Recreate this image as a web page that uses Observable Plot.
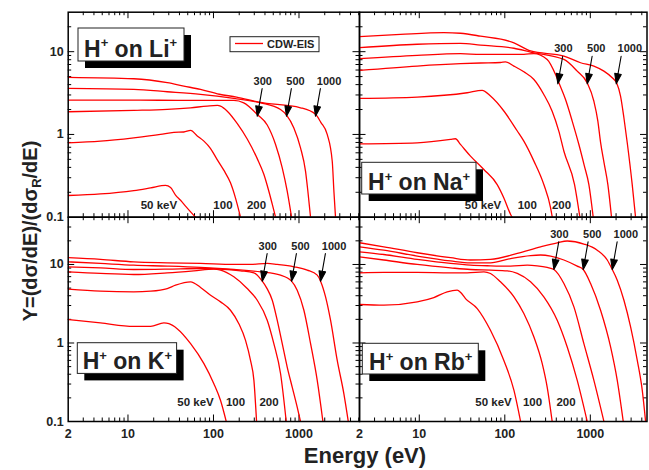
<!DOCTYPE html>
<html>
<head>
<meta charset="utf-8">
<script src="https://cdn.jsdelivr.net/npm/d3@7"></script>
<script src="https://cdn.jsdelivr.net/npm/@observablehq/plot@0.6"></script>
<style>
  body { margin: 0; background: #fff; }
  #chart { position: relative; width: 649px; height: 470px; }
  #chart > svg { position: absolute; left: 0; top: 0; }
</style>
</head>
<body>
<div id="chart"></div>
<script>
// ---------- data: [electron energy (eV), Y] per projectile energy (keV) ----------
const energiesKeV = [50, 100, 200, 300, 500, 1000];

// H+ on Li+
const li50   = [[2,0.183],[4.77,0.191],[11.7,0.21],[18.4,0.226],[27.5,0.242],[31.5,0.228],[36,0.185],[41.2,0.16],[47.1,0.136],[54,0.116],[61.7,0.1]];
const li100  = [[2,0.793],[4.77,0.83],[11.7,0.911],[24,1.0],[34.4,1.06],[45,1.07],[54,1.118],[64.6,0.96],[77.3,0.83],[92,0.68],[110,0.5],[132,0.37],[158,0.26],[181,0.17],[207,0.1]];
const li200  = [[2,1.88],[11.7,1.95],[28.8,2.01],[54,2.1],[84.5,2.2],[111,2.24],[121,2.2],[145,1.91],[190,1.35],[248,0.88],[325,0.51],[388,0.33],[444,0.206],[490,0.14],[532,0.1]];
const li300  = [[2,2.6],[11.7,2.6],[45,2.58],[70.5,2.58],[173,2.58],[226,2.41],[330,1.72],[425,1.3],[532,0.757],[637,0.395],[728,0.206],[818,0.1]];
const li500  = [[2,3.6],[11.7,3.5],[28.8,3.28],[70.5,3.05],[173,2.72],[355,2.41],[608,2.0],[715,1.71],[871,1.2],[1042,0.689],[1192,0.36],[1270,0.206],[1365,0.1]];
const li1000 = [[2,4.9],[11.7,4.71],[28.8,4.22],[45,3.84],[70.5,3.5],[117,3.06],[186,2.83],[339,2.45],[1042,2.1],[1560,1.75],[1800,1.4],[2138,1.0],[2448,0.475],[2560,0.206],[2673,0.1]];

// H+ on Na+
const na50   = [[2,0.77],[9.45,0.793],[23.2,0.87],[26.5,0.887],[30.3,0.757],[39.7,0.547],[56.9,0.377],[81.5,0.248],[97.5,0.171],[117,0.108],[122,0.1]];
const na100  = [[2,2.73],[9.45,2.83],[36.3,3.19],[54.4,3.41],[68,2.91],[97.5,1.92],[140,1.1],[167,0.83],[219,0.476],[286,0.248],[343,0.13],[359,0.1]];
const na200  = [[2,5.94],[9.45,6.71],[30.3,7.16],[52,7.3],[89,7.4],[102,7.55],[128,6.7],[167,5.71],[219,4.61],[286,3.04],[358,1.91],[429,1.09],[491,0.626],[654,0.248],[755,0.1]];
const na300  = [[2,8.23],[9.45,9.03],[30.3,9.46],[52,9.27],[167,9.27],[219,9.5],[313,8.06],[392,5.3],[429,4.2],[513,2.64],[614,1.45],[735,0.755],[850,0.42],[962,0.248],[1081,0.1]];
const na500  = [[2,11.2],[9.45,12.3],[30.3,12.6],[52,12.0],[128,11],[200,9.9],[491,8.06],[703,5.82],[920,4.2],[1101,2.52],[1225,1.45],[1318,0.8],[1450,0.45],[1604,0.248],[1770,0.1]];
const na1000 = [[2,15.2],[6.04,16.2],[19.4,17],[30.3,16.7],[52,15.4],[128,12.8],[200,10.2],[491,8.85],[769,7.35],[1101,6.7],[1442,5.82],[1805,4.84],[2028,4.2],[2256,2.9],[2470,1.59],[2700,0.8],[3090,0.248],[3380,0.1]];

// H+ on K+
const k50   = [[2,1.99],[4.77,1.8],[11.7,1.63],[18.4,1.63],[26.3,1.8],[30.1,1.76],[37.6,1.52],[54,0.98],[77.3,0.545],[101,0.303],[121,0.185],[141,0.1]];
const k100  = [[2,4.84],[4.77,4.57],[11.7,4.48],[18.4,4.57],[28.8,4.94],[36,5.45],[54,6.01],[70.6,5.1],[92.5,4.06],[121,3.34],[158,2.61],[198,1.76],[237,1.08],[271,0.6],[297,0.334],[319,0.1]];
const k200  = [[2,8.06],[4.77,7.68],[11.7,7.45],[28.8,7.83],[59,8.3],[101,8.72],[121,8.47],[173,6.96],[248,4.94],[325,3.5],[425,1.95],[508,0.98],[609,0.406],[709,0.1]];
const k300  = [[2,9.34],[4.77,9.06],[11.7,8.63],[28.8,8.72],[70.6,8.89],[145,8.63],[207,8.3],[297,7.83],[372,6.13],[420,5.0],[487,3.5],[556,1.95],[637,0.98],[728,0.494],[833,0.274],[953,0.152],[1042,0.1]];
const k500  = [[2,10.8],[4.77,10.3],[11.7,9.8],[28.8,9.52],[70.6,9.16],[173,8.63],[356,8.06],[609,7.31],[818,6.13],[953,4.7],[1141,2.61],[1366,0.98],[1634,0.334],[1904,0.1]];
const k1000 = [[2,12.2],[4.77,11.6],[11.7,10.8],[28.8,10.5],[70.6,10.3],[173,10],[271,10],[425,10.3],[556,10],[871,9.34],[1248,8.47],[1634,7.31],[1787,6.13],[2045,3.87],[2339,1.95],[2800,0.6],[3350,0.225],[3770,0.1]];

// H+ on Rb+
const rb50   = [[2,3.09],[3.85,3.03],[9.46,3.34],[14.8,3.79],[21.2,4.48],[27.7,4.7],[30.5,4.4],[34.7,3.68],[47.6,2.74],[68,1.45],[97.5,0.6],[128,0.249],[153,0.1]];
const rb100  = [[2,7.83],[3.85,7.91],[9.46,7.91],[23.2,7.83],[36.3,7.83],[57,8.06],[68,7.68],[89,6.01],[128,3.87],[167,2.37],[219,1.19],[274,0.545],[313,0.274],[358,0.1]];
const rb200  = [[2,12.5],[3.85,11.4],[9.46,10],[23.2,9.06],[39.7,8.63],[68,8.47],[107,8.3],[140,7.68],[200,6.01],[286,3.87],[410,1.95],[537,0.89],[703,0.334],[920,0.1]];
const rb300  = [[2,14.5],[3.85,13.4],[9.46,11.6],[23.2,10.3],[39.7,9.8],[68,9.61],[117,9.52],[183,9.8],[239,9.61],[313,9.16],[375,8.63],[491,5.72],[643,2.88],[841,0.98],[1101,0.334],[1442,0.1]];
const rb500  = [[2,16.8],[3.85,15.2],[9.46,12.8],[23.2,11.1],[39.7,10.5],[68,10.5],[117,11.9],[200,13.0],[262,13.2],[343,12.8],[491,11.4],[703,9.52],[826,8.63],[1007,5.72],[1318,2.61],[1726,0.89],[2065,0.334],[2427,0.1]];
const rb1000 = [[2,18.9],[3.85,16.8],[9.46,14.1],[23.2,12.2],[39.7,11.4],[68,11.6],[140,13.8],[262,16.8],[410,18.9],[537,19.9],[841,18.2],[1205,15.2],[1578,11.4],[1805,8.63],[2065,6.31],[2472,3.5],[2958,1.6],[3540,0.6],[4050,0.249],[4430,0.1]];

// arrow annotations: [E, Y, label] (arrow tip on curve)
const liArrows = [[325,1.66,"300"],[714,1.66,"500"],[1560,1.66,"1000"]];
const naArrows = [[417,4.09,"300"],[921,4.09,"500"],[2011,4.09,"1000"]];
const kArrows  = [[372,6.13,"300"],[818,6.13,"500"],[1786,6.13,"1000"]];
const rbArrows = [[375,8.65,"300"],[826,8.65,"500"],[1806,8.65,"1000"]];

// energy labels near the curve ends: [E, Y, label]
const liLabels = [[23,0.127,"50 keV"],[129,0.127,"100"],[319,0.127,"200"]];
const naLabels = [[55.6,0.125,"50 keV"],[183,0.125,"100"],[461,0.125,"200"]];
const kLabels  = [[61.6,0.158,"50 keV"],[181,0.158,"100"],[446,0.158,"200"]];
const rbLabels = [[73.8,0.158,"50 keV"],[211,0.158,"100"],[520,0.158,"200"]];

// ticks
const xMajorTicks = [10, 100, 1000];
const xMinorTicks = [3,4,5,6,7,8,9,20,30,40,50,60,70,80,90,200,300,400,500,600,700,800,900,2000,3000,4000,5000];
const yMajorTicks = [1, 10];
const yMinorTicks = [0.2,0.3,0.4,0.5,0.6,0.7,0.8,0.9,2,3,4,5,6,7,8,9,20,30,40];
const xTickLabels = [2, 10, 100, 1000];
const yTickLabels = [0.1, 1, 10];

// ---------- layout ----------
const W = 649, H = 470;
const FONT = "'Liberation Sans', Arial, Helvetica, sans-serif";
const panels = [
  {ion: "Li", curves: [li50, li100, li200, li300, li500, li1000], arrows: liArrows, labels: liLabels,
   xDomain: [2, 5100], yDomain: [0.1, 30], left: 67.7, right: 359, top: 11.7, bottom: 216.7, xAxis: false, yAxis: true},
  {ion: "Na", curves: [na50, na100, na200, na300, na500, na1000], arrows: naArrows, labels: naLabels,
   xDomain: [2, 4600], yDomain: [0.1, 30], left: 359, right: 646.5, top: 11.7, bottom: 216.7, xAxis: false, yAxis: false},
  {ion: "K", curves: [k50, k100, k200, k300, k500, k1000], arrows: kArrows, labels: kLabels,
   xDomain: [2, 5100], yDomain: [0.1, 40], left: 67.7, right: 359, top: 216.7, bottom: 421, xAxis: true, yAxis: true},
  {ion: "Rb", curves: [rb50, rb100, rb200, rb300, rb500, rb1000], arrows: rbArrows, labels: rbLabels,
   xDomain: [2, 4600], yDomain: [0.1, 40], left: 359, right: 646.5, top: 216.7, bottom: 421, xAxis: true, yAxis: false}
];

const arrowShape = {
  draw(context, l) {
    const hl = 10, hw = 3.3;
    context.moveTo(0, 0);
    context.lineTo(0, -l + hl);
    context.moveTo(-hw, -l + hl);
    context.lineTo(0, -l);
    context.lineTo(hw, -l + hl);
    context.closePath();
  }
};

const labelDx = {"300": 5.5, "500": 9, "1000": 13.5};

function makePanel(p) {
  const pw = p.right - p.left, ph = p.bottom - p.top;
  const inX = v => v > p.xDomain[0] * 1.001 && v < p.xDomain[1] / 1.001;
  const inY = v => v > p.yDomain[0] * 1.001 && v < p.yDomain[1] / 1.001;
  const xMaj = xMajorTicks.filter(inX), xMin = xMinorTicks.filter(inX);
  const yMaj = yMajorTicks.filter(inY), yMin = yMinorTicks.filter(inY);
  const MJ = 6.5, MN = 3.5;
  const tickStyle = {stroke: "black", strokeWidth: 1};
  const marks = [
    Plot.ruleX(xMaj, {...tickStyle, insetTop: ph - MJ}),
    Plot.ruleX(xMaj, {...tickStyle, insetBottom: ph - MJ}),
    Plot.ruleX(xMin, {...tickStyle, insetTop: ph - MN}),
    Plot.ruleX(xMin, {...tickStyle, insetBottom: ph - MN}),
    Plot.ruleY(yMaj, {...tickStyle, insetRight: pw - MJ}),
    Plot.ruleY(yMaj, {...tickStyle, insetLeft: pw - MJ}),
    Plot.ruleY(yMin, {...tickStyle, insetRight: pw - MN}),
    Plot.ruleY(yMin, {...tickStyle, insetLeft: pw - MN}),
    ...p.curves.map(c => Plot.line(c, {x: d => d[0], y: d => d[1], stroke: "#ff0000", strokeWidth: 1.3, curve: "monotone-x", clip: true})),
    Plot.frame({stroke: "black", strokeWidth: 1.5}),
    Plot.vector(p.arrows, {x: d => d[0], y: d => d[1], length: 28, rotate: 190, anchor: "end", shape: arrowShape, stroke: "black", fill: "black", strokeWidth: 1.1}),
    ...["300", "500", "1000"].map(lab => Plot.text(p.arrows.filter(d => d[2] === lab), {
      x: d => d[0], y: d => d[1], text: d => d[2], dx: labelDx[lab], dy: -31.5,
      lineAnchor: "bottom", textAnchor: "middle", fontSize: 11, fontWeight: "bold", fill: "#222"})),
    Plot.text(p.labels, {x: d => d[0], y: d => d[1], text: d => d[2], lineAnchor: "bottom", textAnchor: "middle", fontSize: 11.5, fontWeight: "bold", fill: "#222"})
  ];
  if (p.yAxis) marks.push(Plot.axisY({ticks: yTickLabels, tickSize: 0, tickPadding: 4.5, tickFormat: d => String(d), fontSize: 12.5, fontWeight: "bold"}));
  if (p.xAxis) marks.push(Plot.axisX({ticks: xTickLabels, tickSize: 0, tickPadding: 8, tickFormat: d => String(d), fontSize: 12.5, fontWeight: "bold"}));
  return Plot.plot({
    width: W, height: H,
    marginLeft: p.left, marginRight: W - p.right, marginTop: p.top, marginBottom: H - p.bottom,
    x: {type: "log", domain: p.xDomain, ...(p.xAxis ? {} : {axis: null})},
    y: {type: "log", domain: p.yDomain, ...(p.yAxis ? {} : {axis: null})},
    style: {background: "transparent", fontFamily: FONT, fontWeight: "bold", fontSize: "12.5px", color: "#222", overflow: "visible"},
    marks
  });
}

const chart = document.getElementById("chart");
panels.forEach(p => chart.appendChild(makePanel(p)));

// ---------- overlay: panel titles, legend, axis titles ----------
const titleBoxes = [
  {ion: "Li", x: 78, y: 28, w: 106, h: 33, tx: 84, ty: 56.5},
  {ion: "Na", x: 361.7, y: 162.3, w: 114.3, h: 31.7, tx: 368, ty: 190},
  {ion: "K",  x: 77.3, y: 342.7, w: 99.3, h: 30.7, tx: 82.7, ty: 369.3},
  {ion: "Rb", x: 362.3, y: 343.3, w: 116, h: 30.7, tx: 369, ty: 370}
];

const svg = d3.create("svg").attr("width", W).attr("height", H)
  .style("font-family", FONT).style("font-weight", "bold").style("overflow", "visible");

titleBoxes.forEach(b => {
  const g = svg.append("g");
  g.append("rect").attr("x", b.x + 7).attr("y", b.y + 7).attr("width", b.w).attr("height", b.h).attr("fill", "black");
  g.append("rect").attr("x", b.x).attr("y", b.y).attr("width", b.w).attr("height", b.h)
    .attr("fill", "white").attr("stroke", "#222").attr("stroke-width", 1);
  const t = g.append("text").attr("x", b.tx).attr("y", b.ty).attr("font-size", 23).attr("fill", "#222")
    .style("white-space", "pre");
  t.append("tspan").text("H");
  t.append("tspan").attr("dy", -9.5).attr("font-size", 13).text("+");
  t.append("tspan").attr("dy", 9.5).text(" on " + b.ion);
  t.append("tspan").attr("dy", -9.5).attr("font-size", 13).text("+");
});

// legend
const lg = svg.append("g");
lg.append("rect").attr("x", 230).attr("y", 36.7).attr("width", 89).attr("height", 15)
  .attr("fill", "white").attr("stroke", "#222").attr("stroke-width", 1);
lg.append("line").attr("x1", 235).attr("x2", 263).attr("y1", 43.5).attr("y2", 43.5)
  .attr("stroke", "#ff0000").attr("stroke-width", 1.3);
lg.append("text").attr("x", 267).attr("y", 47.8).attr("font-size", 11).attr("fill", "#222").text("CDW-EIS");

// axis titles
svg.append("text").attr("x", 365).attr("y", 463).attr("text-anchor", "middle")
  .attr("font-size", 22).attr("fill", "#222").text("Energy (eV)");
const yt = svg.append("text").attr("transform", "translate(37,231) rotate(-90)")
  .attr("text-anchor", "middle").attr("font-size", 20).attr("fill", "#222").style("white-space", "pre");
yt.append("tspan").text("Y=(dσ/dE)/(dσ");
yt.append("tspan").attr("dy", 4).attr("font-size", 13).text("R");
yt.append("tspan").attr("dy", -4).text("/dE)");

chart.appendChild(svg.node());
</script>
</body>
</html>
